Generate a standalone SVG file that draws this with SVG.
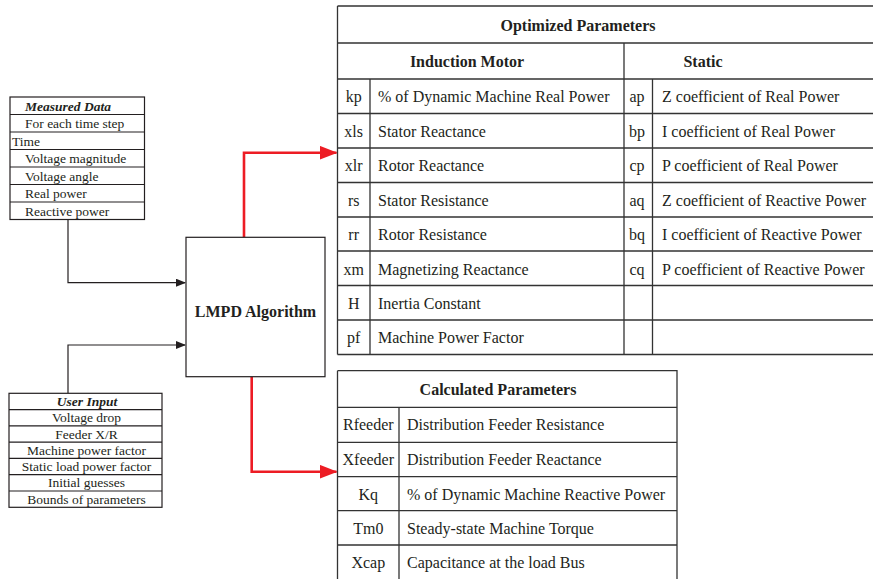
<svg xmlns="http://www.w3.org/2000/svg" width="873" height="579" viewBox="0 0 873 579" font-family="'Liberation Serif', 'Times New Roman', serif">
<style>
.t{fill:#231f20}
.s{font-size:13.5px}
.m{font-size:16px}
.b{font-weight:bold}
.c{text-anchor:middle}
.ln{stroke:#333;stroke-width:1.3;fill:none}
.bx{stroke:#231f20;stroke-width:1.2;fill:#fff}
.bk{stroke:#231f20;stroke-width:1.2;fill:none}
.rd{stroke:#ed1c24;stroke-width:2.6;fill:none}
</style>
<defs>
<marker id="ab" markerWidth="10" markerHeight="8" refX="9" refY="4" orient="auto" markerUnits="userSpaceOnUse"><path d="M0,0 L10,4 L0,8 Z" fill="#231f20"/></marker>
<marker id="ar" markerWidth="18" markerHeight="14" refX="17" refY="7" orient="auto" markerUnits="userSpaceOnUse"><path d="M0,0 L18,7 L0,14 Z" fill="#ed1c24"/></marker>
</defs>
<rect width="873" height="579" fill="#fff"/>

<g id="connectors">
<path class="bk" d="M68,219.5 V282.7 H185" marker-end="url(#ab)"/>
<path class="bk" d="M68,393.3 V345 H185" marker-end="url(#ab)"/>
<path class="rd" d="M244,237 V152.7 H336.5" marker-end="url(#ar)"/>
<path class="rd" d="M251.7,377 V471.7 H336.5" marker-end="url(#ar)"/>
</g>

<g id="measured-data">
<rect class="bx" x="10" y="97" width="134.5" height="122.5"/>
<path class="bk" d="M10,114.5 H144.5 M10,132 H144.5 M10,149.5 H144.5 M10,167 H144.5 M10,184.5 H144.5 M10,202 H144.5"/>
<text class="t s b" x="25" y="110.5" font-style="italic">Measured Data</text>
<text class="t s" x="25" y="128">For each time step</text>
<text class="t s" x="12" y="145.5">Time</text>
<text class="t s" x="25" y="163">Voltage magnitude</text>
<text class="t s" x="25" y="180.5">Voltage angle</text>
<text class="t s" x="25" y="198">Real power</text>
<text class="t s" x="25" y="215.5">Reactive power</text>
</g>

<g id="user-input">
<rect class="bx" x="9" y="393.3" width="153" height="114"/>
<path class="bk" d="M9,409.6 H162 M9,425.9 H162 M9,442.1 H162 M9,458.4 H162 M9,474.7 H162 M9,491 H162"/>
<text class="t s b c" x="87" y="406" font-style="italic">User Input</text>
<text class="t s c" x="86.5" y="422.3">Voltage drop</text>
<text class="t s c" x="86.5" y="438.5">Feeder X/R</text>
<text class="t s c" x="86.5" y="454.8">Machine power factor</text>
<text class="t s c" x="86.5" y="471.1">Static load power factor</text>
<text class="t s c" x="86.5" y="487.4">Initial guesses</text>
<text class="t s c" x="86.5" y="503.7">Bounds of parameters</text>
</g>

<g id="lmpd">
<rect class="bx" x="186" y="237.3" width="139" height="139.4"/>
<text class="t m b c" x="255.5" y="317">LMPD Algorithm</text>
</g>

<g id="optimized-parameters">
<path class="ln" d="M337.5,6 H873 M337.5,6 V354.5 M337.5,43 H873 M337.5,79 H873 M337.5,113.5 H873 M337.5,148 H873 M337.5,182.5 H873 M337.5,217 H873 M337.5,251 H873 M337.5,285.5 H873 M337.5,320 H873 M337.5,354.5 H873 M624,43 V354.5 M370,79 V354.5 M652.5,79 V354.5"/>
<text class="t m b c" x="578" y="31">Optimized Parameters</text>
<text class="t m b c" x="467" y="67">Induction Motor</text>
<text class="t m b c" x="703" y="67">Static</text>
<g class="t m">
<text x="353.7" y="102" class="c">kp</text><text x="378" y="102">% of Dynamic Machine Real Power</text>
<text x="353.7" y="136.5" class="c">xls</text><text x="378" y="136.5">Stator Reactance</text>
<text x="353.7" y="171" class="c">xlr</text><text x="378" y="171">Rotor Reactance</text>
<text x="353.7" y="205.5" class="c">rs</text><text x="378" y="205.5">Stator Resistance</text>
<text x="353.7" y="240" class="c">rr</text><text x="378" y="240">Rotor Resistance</text>
<text x="353.7" y="274.5" class="c">xm</text><text x="378" y="274.5">Magnetizing Reactance</text>
<text x="353.7" y="308.5" class="c">H</text><text x="378" y="308.5">Inertia Constant</text>
<text x="353.7" y="343" class="c">pf</text><text x="378" y="343">Machine Power Factor</text>
<text x="637" y="102" class="c">ap</text><text x="662" y="102">Z coefficient of Real Power</text>
<text x="637" y="136.5" class="c">bp</text><text x="662" y="136.5">I coefficient of Real Power</text>
<text x="637" y="171" class="c">cp</text><text x="662" y="171">P coefficient of Real Power</text>
<text x="637" y="205.5" class="c">aq</text><text x="662" y="205.5">Z coefficient of Reactive Power</text>
<text x="637" y="240" class="c">bq</text><text x="662" y="240">I coefficient of Reactive Power</text>
<text x="637" y="274.5" class="c">cq</text><text x="662" y="274.5">P coefficient of Reactive Power</text>
</g>
</g>

<g id="calculated-parameters">
<path class="ln" d="M337.5,370.7 H677 V579 M337.5,370.7 V579 M337.5,407.3 H677 M337.5,442.3 H677 M337.5,476.7 H677 M337.5,510.7 H677 M337.5,545 H677 M399,407.3 V579"/>
<text class="t m b c" x="498" y="395">Calculated Parameters</text>
<g class="t m">
<text x="368.3" y="430" class="c">Rfeeder</text><text x="407" y="430">Distribution Feeder Resistance</text>
<text x="368.3" y="465" class="c">Xfeeder</text><text x="407" y="465">Distribution Feeder Reactance</text>
<text x="368.3" y="499.5" class="c">Kq</text><text x="407" y="499.5">% of Dynamic Machine Reactive Power</text>
<text x="368.3" y="533.5" class="c">Tm0</text><text x="407" y="533.5">Steady-state Machine Torque</text>
<text x="368.3" y="568" class="c">Xcap</text><text x="407" y="568">Capacitance at the load Bus</text>
</g>
</g>
</svg>
